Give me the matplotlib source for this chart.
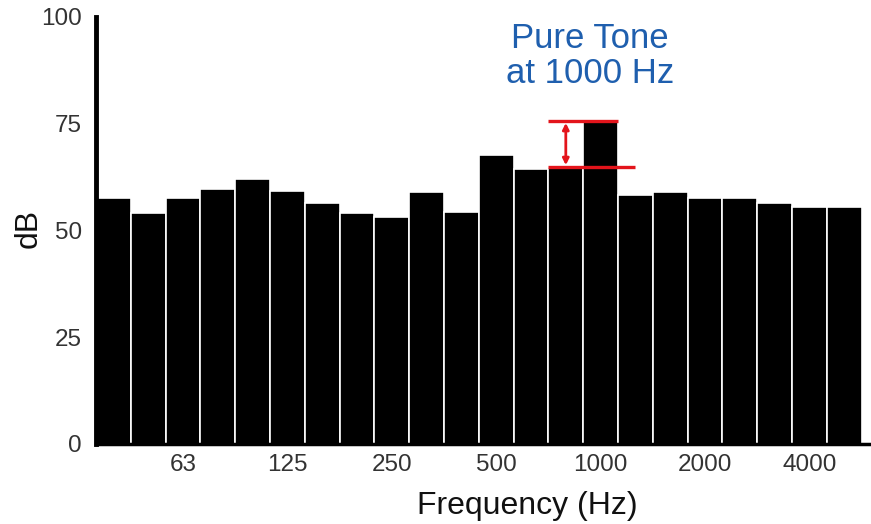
"""
1/3 倍频程噪声谱 + 1000 Hz 纯音
"""
import numpy as np
import matplotlib.pyplot as plt

plt.rcParams['font.family'] = ['Liberation Sans', 'DejaVu Sans']

# -- 数据 ----------------------
bands = [40, 50, 63, 80, 100, 125, 160, 200, 250, 315, 400,
         500, 630, 800, 1000, 1250, 1600, 2000, 2500, 3150, 4000, 5000]
levels = [57.6, 54.1, 57.6, 59.7, 62.0, 59.3, 56.4, 54.1, 53.2, 59.0, 54.3,
          67.7, 64.4, 64.9, 75.6, 58.3, 59.0, 57.6, 57.6, 56.4, 55.5, 55.5]
tick_labels = ['63', '125', '250', '500', '1000', '2000', '4000']
yticks = [0, 25, 50, 75, 100]

tone_band = 1000
background_band = 800


def main():
    fig = plt.figure(figsize=(8.71, 5.24), dpi=100)
    ax = fig.add_axes([96 / 871, 80 / 524, 1 - 96 / 871, 427 / 524])

    x = np.arange(len(bands))
    ax.bar(x, levels, width=1.0, color='black', edgecolor='white',
           linewidth=1.2, zorder=2)

    ax.set_xlim(-0.5, 21.77)
    ax.set_ylim(0, 100)

    tick_pos = [bands.index(int(t)) for t in tick_labels]
    ax.set_xticks(tick_pos)
    ax.set_xticklabels(tick_labels)
    ax.set_yticks(yticks)
    ax.tick_params(length=0, labelsize=17.5, labelcolor='#333333')
    ax.tick_params(axis='x', pad=7)
    ax.tick_params(axis='y', pad=10)

    for s in ['top', 'right']:
        ax.spines[s].set_visible(False)
    ax.spines['left'].set_linewidth(3.5)
    ax.spines['bottom'].set_linewidth(2.5)
    ax.spines['left'].set_zorder(3)
    ax.spines['bottom'].set_zorder(3)

    ax.set_xlabel('Frequency (Hz)', fontsize=23, color='#111111')
    ax.xaxis.set_label_coords(0.557, -0.11)
    ax.set_ylabel('dB', fontsize=23, color='#111111')
    ax.yaxis.set_label_coords(-0.068, 0.505)

    # 纯音与背景噪声差值标注
    i_tone = bands.index(tone_band)
    i_bg = bands.index(background_band)
    top = levels[i_tone]
    bot = levels[i_bg]
    red = '#e3141b'
    ax.plot([i_bg - 0.5, i_tone + 0.5], [top, top], color=red, lw=2.4,
            solid_capstyle='butt', zorder=4)
    ax.plot([i_bg - 0.5, i_tone + 1.0], [bot, bot], color=red, lw=2.4,
            solid_capstyle='butt', zorder=4)
    ax.annotate('', xy=(i_bg, top - 0.4), xytext=(i_bg, bot + 0.4),
                arrowprops=dict(arrowstyle='<|-|>', color=red, lw=2,
                                mutation_scale=9, shrinkA=0, shrinkB=0),
                zorder=4)

    ax.text(i_tone - 0.3, 98.9, 'Pure Tone\nat 1000 Hz', ha='center',
            va='top', fontsize=25, color='#1f5fae', linespacing=1.1)

    fig.savefig('out.png', dpi=100)


main()
